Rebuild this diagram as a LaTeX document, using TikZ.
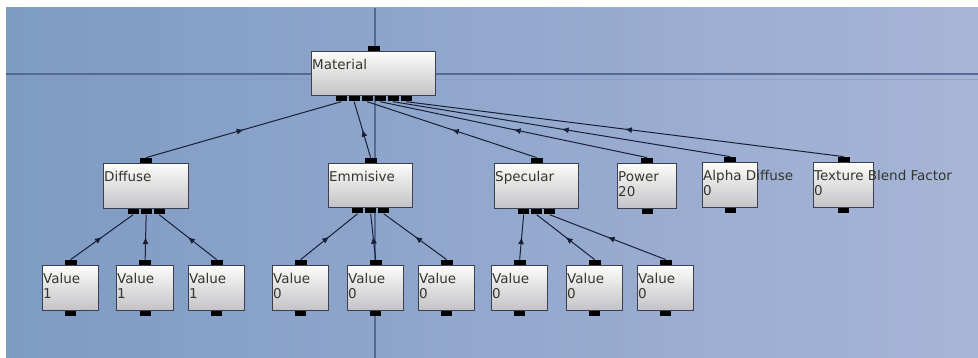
\documentclass[tikz,border=0pt]{standalone}
\usepackage{fontspec}
\setmainfont{DejaVu Sans}
\usetikzlibrary{decorations.markings,arrows.meta,backgrounds}
\definecolor{bgL}{RGB}{126,155,196}
\definecolor{bgR}{RGB}{167,181,214}
\definecolor{gridc}{RGB}{84,106,146}
\definecolor{boxtop}{RGB}{252,252,250}
\definecolor{boxbot}{RGB}{196,194,198}
\definecolor{boxedge}{RGB}{58,64,80}
\definecolor{txt}{RGB}{52,54,46}
\definecolor{wirec}{RGB}{24,32,56}
\tikzset{
 gbox/.style={draw=boxedge, line width=1.3pt, top color=boxtop, bottom color=boxbot, inner sep=0pt, rectangle},
 gtext/.style={text=txt, font=\fontsize{13.5}{15}\selectfont, inner xsep=1pt, inner ysep=0pt, align=left, anchor=north west, yshift=-8pt},
 port/.style={fill=black, draw=none, minimum width=11pt, minimum height=5pt, inner sep=0pt},
 wire/.style={draw=wirec, line width=1pt, postaction={decorate}, decoration={markings, mark=at position 0.5 with {\arrow{Latex[length=7pt,width=6pt]}}}},
}
\newcommand\gnode[6]{%
 \node[gbox, anchor=north west, minimum width=#4pt, minimum height=#5pt] (#1) at (#2,#3) {};
 \node[gtext] (#1-t) at (#1.north west) {#6};
 \node[port, anchor=south, minimum width=12pt] (#1-in) at (#1.north) {};
}
\newcommand\gports[2]{%
 \foreach \i in {1,...,#2} {\node[port, anchor=north, xshift={(\i-(#2+1)/2)*13pt}] (#1-o\i) at (#1.south) {};}
}
\begin{document}
\begin{tikzpicture}[x=1pt,y=-1pt]
\useasboundingbox (0,0) rectangle (978,358);
\gnode{mat}{311}{51}{124}{44}{Material}
\gports{mat}{6}
\gnode{dif}{103}{163}{85}{45}{Diffuse}
\gports{dif}{3}
\gnode{emi}{328}{163}{84}{44}{Emmisive}
\gports{emi}{3}
\gnode{spe}{494}{163}{84}{45}{Specular}
\gports{spe}{3}
\gnode{pow}{617}{163}{59}{45}{Power\\20}
\gports{pow}{1}
\gnode{alp}{702}{162}{55}{45}{Alpha Diffuse\\0}
\gports{alp}{1}
\gnode{tex}{813}{162}{60}{45}{Texture Blend Factor\\0}
\gports{tex}{1}
\gnode{va}{42}{265}{56}{45}{Value\\1}
\gports{va}{1}
\gnode{vb}{116}{265}{57}{45}{Value\\1}
\gports{vb}{1}
\gnode{vc}{188}{265}{56}{45}{Value\\1}
\gports{vc}{1}
\gnode{vd}{272}{265}{56}{45}{Value\\0}
\gports{vd}{1}
\gnode{ve}{347}{265}{56}{45}{Value\\0}
\gports{ve}{1}
\gnode{vf}{418}{265}{56}{45}{Value\\0}
\gports{vf}{1}
\gnode{vg}{491}{265}{56}{45}{Value\\0}
\gports{vg}{1}
\gnode{vh}{566}{265}{56}{45}{Value\\0}
\gports{vh}{1}
\gnode{vi}{637}{265}{56}{45}{Value\\0}
\gports{vi}{1}
\begin{pgfonlayer}{background}
\fill[white] (0,0) rectangle (978,358);
\shade[left color=bgL, right color=bgR] (6,8) rectangle (978,358);
\draw[gridc, line width=1.3pt] (6,74) -- (978,74);
\draw[gridc!40!bgR, line width=0.8pt, opacity=0.6] (6,79) -- (978,79);
\draw[gridc, line width=1.3pt] (375,8) -- (375,358);
\draw[wire] (dif-in.north) -- (mat-o1.south);
\draw[wire] (emi-in.north) -- (mat-o2.south);
\draw[wire] (spe-in.north) -- (mat-o3.south);
\draw[wire] (pow-in.north) -- (mat-o4.south);
\draw[wire] (alp-in.north) -- (mat-o5.south);
\draw[wire] (tex-in.north) -- (mat-o6.south);
\draw[wire] (va-in.north) -- (dif-o1.south);
\draw[wire] (vb-in.north) -- (dif-o2.south);
\draw[wire] (vc-in.north) -- (dif-o3.south);
\draw[wire] (vd-in.north) -- (emi-o1.south);
\draw[wire] (ve-in.north) -- (emi-o2.south);
\draw[wire] (vf-in.north) -- (emi-o3.south);
\draw[wire] (vg-in.north) -- (spe-o1.south);
\draw[wire] (vh-in.north) -- (spe-o2.south);
\draw[wire] (vi-in.north) -- (spe-o3.south);
\end{pgfonlayer}
\end{tikzpicture}
\end{document}
